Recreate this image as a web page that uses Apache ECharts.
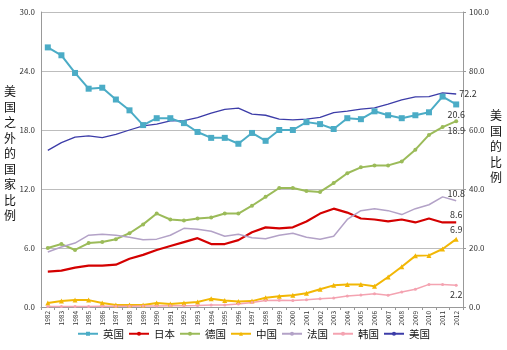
<!DOCTYPE html>
<html>
<head>
<meta charset="utf-8">
<script src="https://cdn.jsdelivr.net/npm/echarts@6/dist/echarts.min.js"></script>
<style>
    html, body { margin: 0; padding: 0; background: #fff; }
    #chart { width: 507px; height: 350px; }
</style>
</head>
<body>
<div id="chart"></div>
<script>
    // 年份
    var years = ['1982','1983','1984','1985','1986','1987','1988','1989','1990','1991',
        '1992','1993','1994','1995','1996','1997','1998','1999','2000','2001',
        '2002','2003','2004','2005','2006','2007','2008','2009','2010','2011','2012'];

    // 左轴: 美国之外的国家比例
    var uk = [26.4,25.6,23.8,22.2,22.3,21.1,20.0,18.5,19.2,19.2,
        18.7,17.8,17.2,17.2,16.6,17.7,16.9,18.0,18.0,18.8,
        18.6,18.1,19.2,19.1,19.9,19.5,19.2,19.5,19.8,21.4,20.6];
    var japan = [3.6,3.7,4.0,4.2,4.2,4.3,4.9,5.3,5.8,6.2,
        6.6,7.0,6.4,6.4,6.8,7.6,8.1,8.0,8.1,8.7,
        9.5,10.0,9.6,9.0,8.9,8.7,8.9,8.6,9.0,8.6,8.6];
    var germany = [6.0,6.4,5.8,6.5,6.6,6.9,7.5,8.4,9.5,8.9,
        8.8,9.0,9.1,9.5,9.5,10.3,11.2,12.1,12.1,11.8,
        11.7,12.6,13.6,14.2,14.4,14.4,14.8,16.0,17.5,18.3,18.9];
    var china = [0.4,0.6,0.7,0.7,0.4,0.2,0.2,0.2,0.4,0.3,
        0.4,0.5,0.85,0.65,0.55,0.6,0.95,1.1,1.2,1.4,
        1.8,2.2,2.3,2.3,2.1,3.05,4.1,5.2,5.25,5.9,6.9];
    var france = [5.6,6.1,6.5,7.3,7.4,7.3,7.1,6.85,6.9,7.3,
        8.0,7.9,7.7,7.2,7.4,7.05,6.95,7.3,7.5,7.1,
        6.9,7.2,8.9,9.8,10.0,9.8,9.4,10.0,10.4,11.2,10.8];
    var korea = [0.05,0.05,0.06,0.06,0.07,0.08,0.08,0.1,0.1,0.12,
        0.13,0.15,0.2,0.2,0.3,0.45,0.65,0.68,0.65,0.74,
        0.85,0.92,1.12,1.22,1.35,1.19,1.53,1.8,2.3,2.3,2.2];

    // 右轴: 美国的比例
    var usa = [53.1,55.7,57.6,58.0,57.4,58.5,60.0,61.4,62.0,63.1,
        63.2,64.2,65.7,67.0,67.4,65.4,65.0,63.7,63.4,63.7,
        64.3,65.9,66.4,67.1,67.5,68.8,70.2,71.2,71.3,72.6,72.2];

    var leftTicks = [0, 6, 12, 18, 24, 30];
    var rightTicks = [0, 20, 40, 60, 80, 100];

    var myChart = echarts.init(document.getElementById('chart'));

    // 只给最后一个点加数值标签
    function lastLabel(arr, pos) {
        return arr.map(function (v, i) {
            if (i !== arr.length - 1) return v;
            return {
                value: v,
                label: {
                    show: true,
                    position: pos,
                    distance: 3,
                    fontSize: 9,
                    color: '#333',
                    formatter: function (p) { return p.value.toFixed(1); }
                }
            };
        });
    }

    var vertText = function (s) { return s.split('').join('\n'); };

    var option = {
        backgroundColor: '#fff',
        animation: false,
        textStyle: { fontFamily: '"Noto Sans CJK SC", "DejaVu Sans", sans-serif' },
        grid: {
            left: 41,
            right: 44,
            top: 12,
            bottom: 43
        },
        legend: {
            bottom: 6,
            left: 'center',
            itemWidth: 20,
            itemHeight: 5,
            itemGap: 4,
            textStyle: { fontSize: 10.5, color: '#111' },
            data: ['英国', '日本', '德国', '中国', '法国', '韩国', '美国']
        },
        graphic: [
            {
                type: 'text',
                left: 4,
                top: 84,
                style: {
                    text: vertText('美国之外的国家比例'),
                    lineHeight: 15.5,
                    fill: '#111',
                    font: '12px "Noto Sans CJK SC"'
                }
            },
            {
                type: 'text',
                left: 490,
                top: 108,
                style: {
                    text: vertText('美国的比例'),
                    lineHeight: 15.5,
                    fill: '#111',
                    font: '12px "Noto Sans CJK SC"'
                }
            }
        ],
        xAxis: {
            type: 'category',
            data: years,
            boundaryGap: true,
            axisLine: { lineStyle: { color: '#999' } },
            axisTick: { show: true, length: 3, lineStyle: { color: '#999' } },
            axisLabel: {
                interval: 0,
                rotate: 90,
                fontSize: 6.5,
                color: '#333',
                margin: 4
            }
        },
        yAxis: [
            {
                type: 'value',
                min: leftTicks[0],
                max: leftTicks[leftTicks.length - 1],
                interval: leftTicks[1] - leftTicks[0],
                axisLine: { show: true, lineStyle: { color: '#999' } },
                axisTick: { show: false },
                axisLabel: {
                    fontSize: 8,
                    color: '#333',
                    margin: 6,
                    formatter: function (v) { return v.toFixed(1); }
                },
                splitLine: { lineStyle: { color: '#bdbdbd', width: 1 } }
            },
            {
                type: 'value',
                min: rightTicks[0],
                max: rightTicks[rightTicks.length - 1],
                interval: rightTicks[1] - rightTicks[0],
                position: 'right',
                axisLine: { show: true, lineStyle: { color: '#999' } },
                axisTick: { show: true, length: 3, lineStyle: { color: '#999' } },
                axisLabel: {
                    fontSize: 8,
                    color: '#333',
                    margin: 6,
                    formatter: function (v) { return v.toFixed(1); }
                },
                splitLine: { show: false }
            }
        ],
        series: [
            {
                name: '英国',
                type: 'line',
                data: lastLabel(uk, 'bottom'),
                symbol: 'rect',
                symbolSize: 6,
                color: '#4BACC6',
                lineStyle: { width: 2 },
                z: 6
            },
            {
                name: '日本',
                type: 'line',
                data: lastLabel(japan, 'top'),
                symbol: 'circle',
                symbolSize: 0,
                color: '#D40000',
                lineStyle: { width: 2.2 }
            },
            {
                name: '德国',
                type: 'line',
                data: lastLabel(germany, 'bottom'),
                symbol: 'circle',
                symbolSize: 4,
                color: '#9BBB59',
                lineStyle: { width: 2 }
            },
            {
                name: '中国',
                type: 'line',
                data: lastLabel(china, 'top'),
                symbol: 'triangle',
                symbolSize: 5,
                color: '#F2B705',
                lineStyle: { width: 2 }
            },
            {
                name: '法国',
                type: 'line',
                data: lastLabel(france, 'top'),
                symbol: 'circle',
                symbolSize: 0,
                color: '#B3A2C7',
                lineStyle: { width: 1.5 }
            },
            {
                name: '韩国',
                type: 'line',
                data: lastLabel(korea, 'bottom'),
                symbol: 'circle',
                symbolSize: 3,
                color: '#F4A3B1',
                lineStyle: { width: 1.5 }
            },
            {
                name: '美国',
                type: 'line',
                yAxisIndex: 1,
                data: lastLabel(usa, 'right'),
                symbol: 'circle',
                symbolSize: 0,
                color: '#3C3CA8',
                lineStyle: { width: 1.3 }
            }
        ]
    };

    myChart.setOption(option);
</script>
</body>
</html>
